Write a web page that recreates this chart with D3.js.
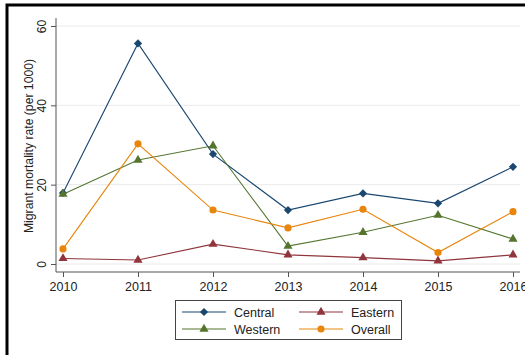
<!DOCTYPE html>
<html>
<head>
<meta charset="utf-8">
<script src="https://cdn.jsdelivr.net/npm/d3@7"></script>
<style>
  html, body { margin: 0; padding: 0; background: #fff; }
  svg { display: block; font-family: "Liberation Sans", Arial, sans-serif; }
</style>
</head>
<body>
<svg id="chart" width="525" height="355"></svg>
<script>
// Migrant mortality rate by region, per 1000
const years = [2010, 2011, 2012, 2013, 2014, 2015, 2016];
const central = [17.9, 55.6, 27.7, 13.6, 17.8, 15.3, 24.5];
const eastern = [1.4, 1.0, 5.0, 2.3, 1.6, 0.8, 2.3];
const western = [17.6, 26.2, 29.8, 4.5, 8.0, 12.3, 6.3];
const overall = [3.8, 30.3, 13.6, 9.1, 13.8, 2.9, 13.2];
const yTicks = [0, 20, 40, 60];
const seriesNames = ["Central", "Eastern", "Western", "Overall"];

// Central uses a square turned 45 degrees (a regular diamond)
const series = [
  { name: seriesNames[0], values: central, color: "#1a476f", shape: d3.symbolSquare, size: 34, rot: 45 },
  { name: seriesNames[1], values: eastern, color: "#90353b", shape: d3.symbolTriangle, size: 36, rot: 0 },
  { name: seriesNames[2], values: western, color: "#55752f", shape: d3.symbolTriangle, size: 36, rot: 0 },
  { name: seriesNames[3], values: overall, color: "#e8850c", shape: d3.symbolCircle, size: 40, rot: 0 }
];

const svg = d3.select("#chart");

// Outer frame (partially cropped on the right and bottom)
svg.append("rect")
  .attr("x", 7).attr("y", 5)
  .attr("width", 540).attr("height", 370)
  .attr("fill", "none").attr("stroke", "#000").attr("stroke-width", 3);

const x = d3.scaleLinear().domain([2010, 2016]).range([63, 513]);
const y = d3.scaleLinear().domain([0, 60]).range([264, 26]);

const plotLeft = 56, plotRight = 520, axisY = 272;

// Grid lines
svg.append("g").selectAll("line").data(yTicks).join("line")
  .attr("x1", plotLeft).attr("x2", plotRight)
  .attr("y1", d => y(d)).attr("y2", d => y(d))
  .attr("stroke", "#eaeaea").attr("stroke-width", 1);

// Y axis
const yAxis = svg.append("g")
  .attr("transform", `translate(${plotLeft},0)`)
  .call(d3.axisLeft(y).tickValues(yTicks).tickSize(5).tickPadding(4));
yAxis.select(".domain").attr("d", `M0,18V${axisY}`).attr("stroke", "#555");
yAxis.selectAll(".tick line").attr("stroke", "#555");
yAxis.selectAll(".tick text")
  .attr("font-size", 12).attr("fill", "#222")
  .attr("text-anchor", "middle")
  .attr("transform", "rotate(-90)")
  .attr("x", 0).attr("dy", 0)
  .attr("y", -10);

// X axis
const xAxis = svg.append("g")
  .attr("transform", `translate(0,${axisY})`)
  .call(d3.axisBottom(x).tickValues(years).tickFormat(d3.format("d")).tickSize(5).tickPadding(5));
xAxis.select(".domain").attr("d", `M${plotLeft},0H${plotRight}`).attr("stroke", "#555");
xAxis.selectAll(".tick line").attr("stroke", "#555");
xAxis.selectAll(".tick text").attr("font-size", 12.5).attr("fill", "#222");

// Y axis title
svg.append("text")
  .attr("transform", `translate(33,146) rotate(-90)`)
  .attr("text-anchor", "middle")
  .attr("font-size", 12.2)
  .attr("fill", "#222")
  .text("Migrant mortality rate (per 1000)");

// Lines and markers
const line = d3.line().x((d, i) => x(years[i])).y(d => y(d));
series.forEach(s => {
  svg.append("path")
    .datum(s.values)
    .attr("d", line)
    .attr("fill", "none")
    .attr("stroke", s.color)
    .attr("stroke-width", 1.1);
  svg.append("g").selectAll("path").data(s.values).join("path")
    .attr("transform", (d, i) => `translate(${x(years[i])},${y(d)}) rotate(${s.rot})`)
    .attr("d", d3.symbol().type(s.shape).size(s.size))
    .attr("fill", s.color);
});

// Legend
const legend = svg.append("g");
legend.append("rect")
  .attr("x", 175.5).attr("y", 300.5).attr("width", 226).attr("height", 39)
  .attr("fill", "#fff").attr("stroke", "#444").attr("stroke-width", 1);

series.forEach((s, i) => {
  const col = i % 2, row = Math.floor(i / 2);
  const lx = 182 + col * 117, ly = 312 + row * 17;
  legend.append("line")
    .attr("x1", lx).attr("x2", lx + 44).attr("y1", ly).attr("y2", ly)
    .attr("stroke", s.color).attr("stroke-width", 1.1);
  legend.append("path")
    .attr("transform", `translate(${lx + 22},${ly}) rotate(${s.rot})`)
    .attr("d", d3.symbol().type(s.shape).size(s.size))
    .attr("fill", s.color);
  legend.append("text")
    .attr("x", lx + 52).attr("y", ly + 4.5)
    .attr("font-size", 12.5).attr("fill", "#222")
    .text(s.name);
});
</script>
</body>
</html>
